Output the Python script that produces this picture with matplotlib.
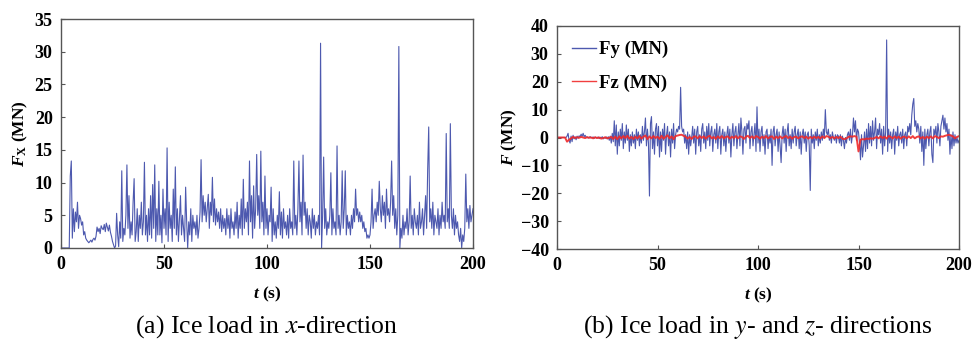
import numpy as np
import matplotlib
matplotlib.use("Agg")
import matplotlib.pyplot as plt

plt.rcParams['font.family'] = ['Liberation Serif', 'DejaVu Serif']
plt.rcParams['mathtext.fontset'] = 'custom'
plt.rcParams['mathtext.rm'] = 'Liberation Serif:bold'
plt.rcParams['mathtext.it'] = 'Liberation Serif:italic:bold'
plt.rcParams['mathtext.bf'] = 'Liberation Serif:bold'

# ---- data (0.5 s sampling for Fx, Fy; 1 s for Fz) ----
t_fine = np.arange(0, 200.01, 0.5)
t_coarse = np.arange(0, 201, 1.0)

Fx = [
    0, 0, 0, 0, 0, 0, 0, 0, 0, 11,            # 0-4.5
    13.3, 1.5, 6, 2.5, 5.5, 4, 7, 3, 5, 4.5,   # 5-9.5
    3.5, 4, 2, 2.5, 1.5, 1.2, 1, 0.8, 1, 1.2,  # 10-14.5
    0.9, 1.3, 1.5, 1.2, 1.8, 3.2, 2.5, 3, 2.2, 3.4,
    3, 2.8, 3.6, 2.5, 3.8, 3.2, 2.6, 3.5, 2.4, 1.8,
    1, 0.5, 0, 0.3, 5.3, 2, 0.2, 4, 1.5, 11.8,  # 25-29.5
    1, 3, 2, 5, 12.7, 3, 8, 1.5, 4, 2,          # 30-34.5
    7, 10.6, 1, 2.5, 6, 1, 5, 3, 7, 2,          # 35-39.5
    4, 13.1, 2, 5, 1, 6, 2, 8, 1.5, 9.7,        # 40-44.5
    3, 12.7, 1, 6, 2, 10.2, 2, 5, 0.8, 9,       # 45-49.5
    3, 6, 2, 15.3, 1, 7, 3, 5, 1, 9,            # 50-54.5
    3, 12.4, 2, 6, 1, 4.5, 8, 2, 5, 3,          # 55-59.5
    1, 9.3, 4, 0, 4, 2, 6, 1, 5, 3,             # 60-64.5
    4, 2, 5, 1.5, 3, 5.5, 13.5, 4, 8, 5,        # 65-69.5
    7, 4, 6, 8.2, 3, 7, 5, 10.8, 4, 7.5,        # 70-74.5
    3.5, 6, 4, 5.5, 3, 6, 2.5, 5, 3, 4.5,       # 75-79.5
    2, 6, 3, 5, 1.5, 6, 3, 4, 2, 5.5,           # 80-84.5
    3, 7, 1.5, 5, 3, 7.5, 2, 10.5, 3, 6,        # 85-89.5
    4, 7, 2, 13.3, 4, 8, 1.5, 9.5, 3, 6,        # 90-94.5
    14.3, 5, 8, 3, 14.8, 4, 7, 2, 11, 3,        # 95-99.5
    6, 2, 5, 4, 9.3, 1, 6, 2, 4, 1.5,           # 100-104.5
    5, 3, 8.6, 2, 5.5, 1.5, 6, 3, 4, 2,         # 105-109.5
    5, 1.5, 6, 3, 4, 2, 13.3, 3, 5, 2,          # 110-114.5
    6, 13.3, 4, 7, 2, 14.2, 5, 7, 3, 6,         # 115-119.5
    2, 5, 4, 1.5, 6, 3, 5, 2, 4, 3,             # 120-124.5
    5, 2, 31.3, 0, 5, 13.9, 3, 6, 2, 4,         # 125-129.5
    3, 5, 11.5, 2, 6, 3, 4, 2, 15.6, 3,         # 130-134.5
    5, 2, 4, 11.8, 3, 6, 11.8, 2, 5, 3,         # 135-139.5
    4, 2, 5, 3, 6, 4, 9, 5, 6, 4,               # 140-144.5
    5.5, 4, 5, 3, 4, 2.5, 3, 1.5, 2, 1.5,       # 145-149.5
    2, 4, 9, 3, 5, 6, 4, 7, 5, 10.2,            # 150-154.5
    6, 4, 8, 5, 7, 3, 9, 5, 6, 4,               # 155-159.5
    7, 13.3, 5, 8, 3, 6, 2, 5, 30.8, 0,         # 160-164.5
    3, 1.5, 5, 2, 4, 3, 6, 2, 4, 11,            # 165-169.5
    3, 5, 2, 6, 4, 3, 5, 2, 7, 3,               # 170-174.5
    4, 6, 2, 5, 8, 3, 12, 18.5, 4, 6,           # 175-179.5
    3, 7, 2, 5, 4, 3, 6, 2, 5, 3,               # 180-184.5
    7, 4, 5, 3, 17.5, 4, 6, 3, 19, 5,           # 185-189.5
    3, 6, 2, 5, 3, 4, 2, 1, 3, 0,               # 190-194.5
    2, 1, 3, 11.3, 4, 6, 3, 6.5, 4, 5,          # 195-199.5
    6,                                          # 200
]

Fy = [
    0, 0, 0, 0, 0, 0, 0, 0, 0, 0,
    0.5, 1.5, -1, -2, 0.5, -1.5, 0.8, -0.5, 0.3, -0.8,
    0.5, -0.3, 0.6, 0.2, 1.2, 0.4, 1.5, 0.3, 0.8, 0.1,
    0.2, -0.2, 0.1, 0.3, -0.1, 0, 0.2, -0.3, 0.1, -0.2,
    0, 0.2, -0.4, 0.1, -0.2, 0.3, -0.5, 0, -0.3, 0.2,
    -0.5, 0.3, -1, 0.5, -2, 1.5, -1.5, 6, -3, 4.5,
    -6, 2, -3, 3, -1, 5, -4, 2, -2, 4.5,
    -1, 3, -5, 1, -3, 2, -2, 1, -4, 3,
    -1, 2, -3, 1, -2, 4, -1, 2, 7, -3,
    3, -2, -21, 5, 7.5, -4, 2, -6, 3, 5,
    -3, 4, -7, 2, -5, 3, -1, 5, -6, 1,
    4, -3, 2, -7, 3, -2, 5, -4, 1, 3,
    2, 4, 3, 18, 4, 2, 3, -2, 1, -4,
    2, -6, 1, -3, 0, 4, -2, 3, -6, 2,
    4, -3, 1, -5, 3, 5, -2, 2, -4, 4,
    -1, 5, -3, 2, 4, -5, 1, 3, -2, 5,
    -4, 2, 4, -6, 1, 3, -3, 2, -5, 1,
    4, -2, 3, -7, 1, 5, -3, 2, 4, -4,
    1, 5, -3, 7, 2, -6, 3, 4, -2, 5,
    3, 6, -4, 2, 4, -3, 1, 5, -5, 11,
    -2, 3, -5, 2, 4, -3, 1, -6, 2, 3,
    -4, 1, -2, 3, -10, 2, 4, -3, 1, 3,
    -5, 2, -3, -9, 1, 4, -2, 3, -5, 2,
    5, -3, 1, -4, 3, -2, 2, 4, -3, 1,
    3, -4, 2, -6, 1, 3, -2, 2, -5, 1,
    2, -3, -19, 3, -2, 1, -4, 2, -1, 3,
    -3, 1, -2, 2, -1, 3, 0, 10, 2, 1,
    3, -1, 1, -2, 2, 0, -1, 1, -2, 1,
    0.5, -2, 1, -3, 0.5, -1, -4, 0, -2, 1,
    2, -1, 3, -2, 1, 7, 2, 6, -1, 3,
    2, -2, -8, 1, -7, -3, 2, -5, 3, -4,
    5, -2, 4, -3, 6, -1, 2, 7, -4, 3,
    1, 5, -2, 3, -6, 4, -3, 2, 35, -5,
    3, -2, 2, -4, 1, 3, -6, 2, -1, 4,
    -3, 1, 2, -2, 3, -4, 1, 2, -3, 4,
    2, 5, 1, 8, 12, 14, 4, 6, 2, 5,
    3, -2, 4, -5, 2, -10, 3, -4, 1, 3,
    -3, 2, 4, -6, -9, 3, 1, 4, -2, 5,
    2, -3, 4, 6, 8, 3, 7, 2, 5, -1,
    3, -6, 1, -4, 2, -3, 1, -2, 0, -2,
    -1,
]

Fz = [
    0, 0, 0, 0, 0, -1.5, -0.8, -0.3, 0.2, -0.2,
    0.1, -0.1, 0.2, 0, -0.2, 0.1, -0.1, 0, -0.3, 0.1,
    -0.2, 0, -0.4, -0.2, 0.1, -0.3, -0.1, 0.2, -0.5, 0.3,
    -0.6, 0.4, -0.3, 0.5, -0.2, 0.6, -0.4, 0.2, -0.5, 0.3,
    -0.3, 0.5, -0.4, 0.3, 0.7, -0.6, 0.4, -0.3, 0.5, -0.2,
    0.3, -0.5, 0.6, -0.4, 0.2, 0.8, -0.3, 0.4, -0.6, 0.5,
    0.7, 0.9, 1.0, 0.6, 0.3, -0.4, 0.2, -0.5, 0.3, 0.4,
    -0.3, 0.5, -0.2, 0.4, -0.4, 0.3, 0.6, -0.3, 0.2, -0.5,
    0.4, -0.2, 0.5, -0.3, 0.2, 0.4, -0.4, 0.3, -0.2, 0.5,
    -0.3, 0.4, 0.2, -0.5, 0.3, 0.6, -0.2, 0.4, -0.3, 0.5,
    0.2, -0.4, 0.3, -0.2, 0.5, -0.3, 0.2, 0.4, -0.5, 0.3,
    -0.2, 0.4, -0.3, 0.2, 0.5, -0.2, 0.3, -0.4, 0.2, 0.3,
    -0.3, 0.2, 0.4, -0.2, 0.3, -0.4, 0.2, -0.3, 0.3, -0.2,
    0.2, -0.3, 0.4, -0.2, 0.5, 0.3, -0.2, 0.2, -0.3, 0.2,
    -0.2, 0.3, -0.4, -0.6, -0.3, 0.2, 0.4, 0.3, 0.5, 0.3,
    -5.0, -0.8, -0.6, -0.7, -0.4, -0.5, -0.3, -0.4, -0.2, 0.2,
    -0.3, 0.4, -0.2, 0.3, -0.4, 0.5, 0.2, -0.3, 0.4, -0.2,
    0.3, -0.4, 0.2, 0.3, -0.3, 0.4, -0.2, 0.5, -0.3, 0.2,
    0.4, -0.3, 0.2, -0.4, 0.3, -0.2, 0.4, -0.3, 0.5, 0.2,
    -0.2, 0.4, 0.3, 0.6, 0.8, 1.0, 0.7, 0.4, -0.3, 0.2,
    0.5,
]

xticks = [0, 50, 100, 150, 200]
yticks_a = [0, 5, 10, 15, 20, 25, 30, 35]
yticks_b = [-40, -30, -20, -10, 0, 10, 20, 30, 40]

blue = '#3a47a6'
red = '#f02a2a'
spine_c = '#555555'

fig = plt.figure(figsize=(9.75, 3.42), dpi=100)
ax1 = fig.add_axes([61/975, (342-248)/342, (473-61)/975, (248-19)/342])
ax2 = fig.add_axes([557/975, (342-249)/342, (959-557)/975, (249-26)/342])

ax1.plot(t_fine, Fx, color=blue, lw=0.8, alpha=0.9)
ax1.set_xlim(0, 200)
ax1.set_ylim(0, 35)
ax1.set_xticks(xticks)
ax1.set_yticks(yticks_a)
ax1.set_xlabel(r'$t$ (s)', fontsize=12.5, fontweight='bold', labelpad=8)
ax1.set_ylabel(r'$F_{\rm X}$ (MN)', fontsize=12.5, fontweight='bold', labelpad=3)

ax2.plot(t_fine, Fy, color=blue, lw=0.8, alpha=0.9, label='Fy (MN)')
ax2.plot(t_coarse, Fz, color=red, lw=1.4, alpha=0.9, label='Fz (MN)')
ax2.set_xlim(0, 200)
ax2.set_ylim(-40, 40)
ax2.set_xticks(xticks)
ax2.set_yticks(yticks_b)
ax2.set_xlabel(r'$t$ (s)', fontsize=12.5, fontweight='bold', labelpad=8)
ax2.set_ylabel(r'$F$ (MN)', fontsize=12.5, fontweight='bold', labelpad=1)
leg = ax2.legend(loc='upper left', frameon=False, handlelength=1.3,
                 handletextpad=0.15, labelspacing=0.85, borderaxespad=0.4,
                 prop={'weight': 'bold', 'size': 13.5})
for lh in leg.get_lines():
    lh.set_linewidth(1.0)

for ax in (ax1, ax2):
    for s in ax.spines.values():
        s.set_color(spine_c)
        s.set_linewidth(1.0)
    ax.tick_params(direction='in', length=3, width=0.8, color=spine_c,
                   labelsize=13, pad=6)
    for lab in ax.get_xticklabels() + ax.get_yticklabels():
        lab.set_fontweight('bold')

fig.text(267/975, 1 - 327/342, r'(a) Ice load in $\mathit{x}$-direction', fontsize=18.5,
         ha='center', va='center', math_fontfamily='stix')
fig.text(758/975, 1 - 327/342, r'(b) Ice load in $\mathit{y}$- and $\mathit{z}$- directions', fontsize=18.5,
         ha='center', va='center', math_fontfamily='stix')

fig.savefig('out.png', dpi=100)
